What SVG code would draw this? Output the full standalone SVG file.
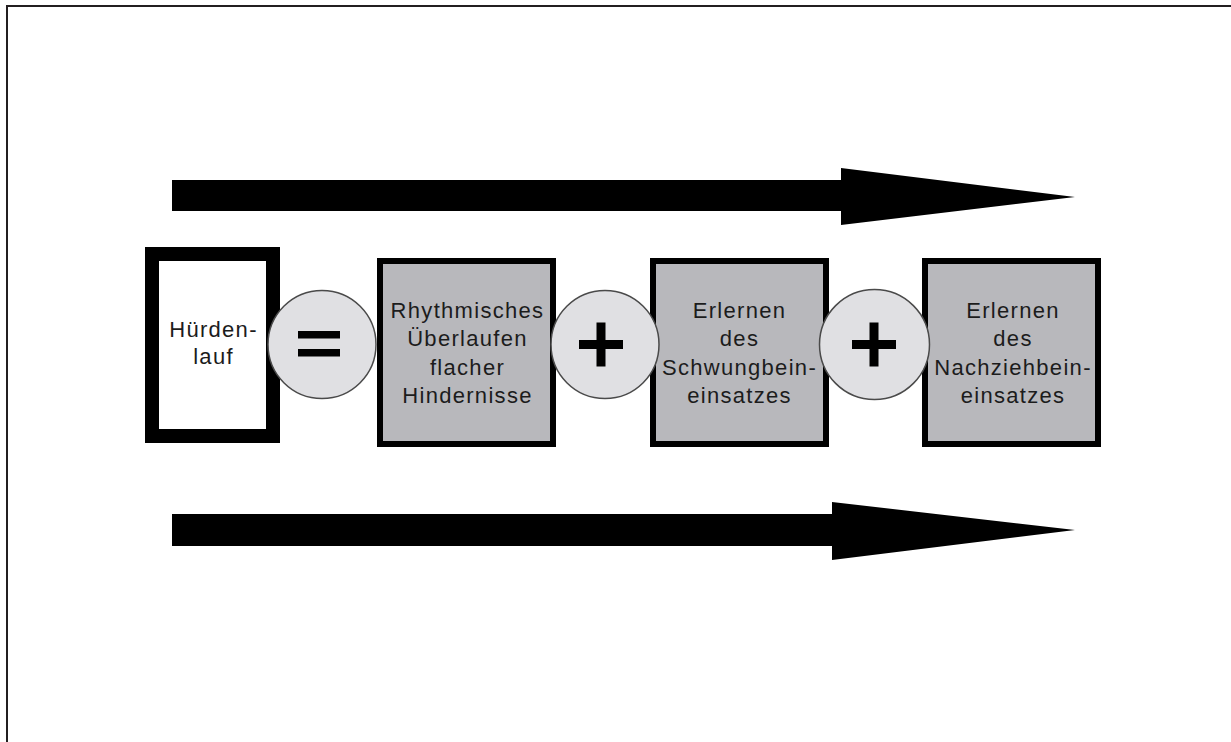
<svg xmlns="http://www.w3.org/2000/svg" width="1231" height="742" viewBox="0 0 1231 742">
<style>
.frame{stroke:#231f20;stroke-width:2;fill:none}
.arrow{fill:#000}
.box{fill:#b8b8bc;stroke:#000;stroke-width:6}
.box1{fill:#fff;stroke:#000;stroke-width:14}
.op{fill:#e0e0e3;stroke:#4a4a4a;stroke-width:1.5}
.sym{fill:#000}
.lbl{font-family:"Liberation Sans",Arial,sans-serif;font-size:22px;letter-spacing:1.3px;fill:#1c1c1c;text-anchor:middle}
</style>
<rect width="1231" height="742" fill="#fff"/>
<path class="frame" d="M7,742 V6 H1231"/>
<g id="connectors">
<polygon class="arrow" points="172,180 841,180 841,168 1075,197 841,225 841,211 172,211"/>
<polygon class="arrow" points="172,514 832,514 832,502 1075,530 832,560 832,546 172,546"/>
</g>
<g id="node-huerdenlauf">
<rect class="box1" x="152" y="254" width="121" height="182"/>
<text class="lbl"><tspan x="213.5" y="337">Hürden-</tspan><tspan x="213.5" y="364">lauf</tspan></text>
</g>
<g id="node-rhythmisches">
<rect class="box" x="380" y="261" width="173" height="183"/>
<text class="lbl"><tspan x="467.5" y="318">Rhythmisches</tspan><tspan x="467.5" y="346">Überlaufen</tspan><tspan x="467.5" y="375">flacher</tspan><tspan x="467.5" y="403">Hindernisse</tspan></text>
</g>
<g id="node-schwungbein">
<rect class="box" x="653" y="261" width="173" height="183"/>
<text class="lbl"><tspan x="739.5" y="318">Erlernen</tspan><tspan x="739.5" y="346">des</tspan><tspan x="739.5" y="375">Schwungbein-</tspan><tspan x="739.5" y="403">einsatzes</tspan></text>
</g>
<g id="node-nachziehbein">
<rect class="box" x="925" y="261" width="173" height="183"/>
<text class="lbl"><tspan x="1013" y="318">Erlernen</tspan><tspan x="1013" y="346">des</tspan><tspan x="1013" y="375">Nachziehbein-</tspan><tspan x="1013" y="403">einsatzes</tspan></text>
</g>
<g id="op-equals">
<circle class="op" cx="322" cy="344.5" r="54"/>
<rect class="sym" x="298" y="331" width="42" height="7.5"/>
<rect class="sym" x="298" y="349" width="42" height="7.5"/>
</g>
<g id="op-plus-1">
<circle class="op" cx="605" cy="344.5" r="54"/>
<rect class="sym" x="579" y="340" width="44" height="9"/>
<rect class="sym" x="596.5" y="322.5" width="9" height="44"/>
</g>
<g id="op-plus-2">
<circle class="op" cx="874.5" cy="344.5" r="55"/>
<rect class="sym" x="852" y="340" width="44" height="9"/>
<rect class="sym" x="869.5" y="322.5" width="9" height="44"/>
</g>
</svg>
